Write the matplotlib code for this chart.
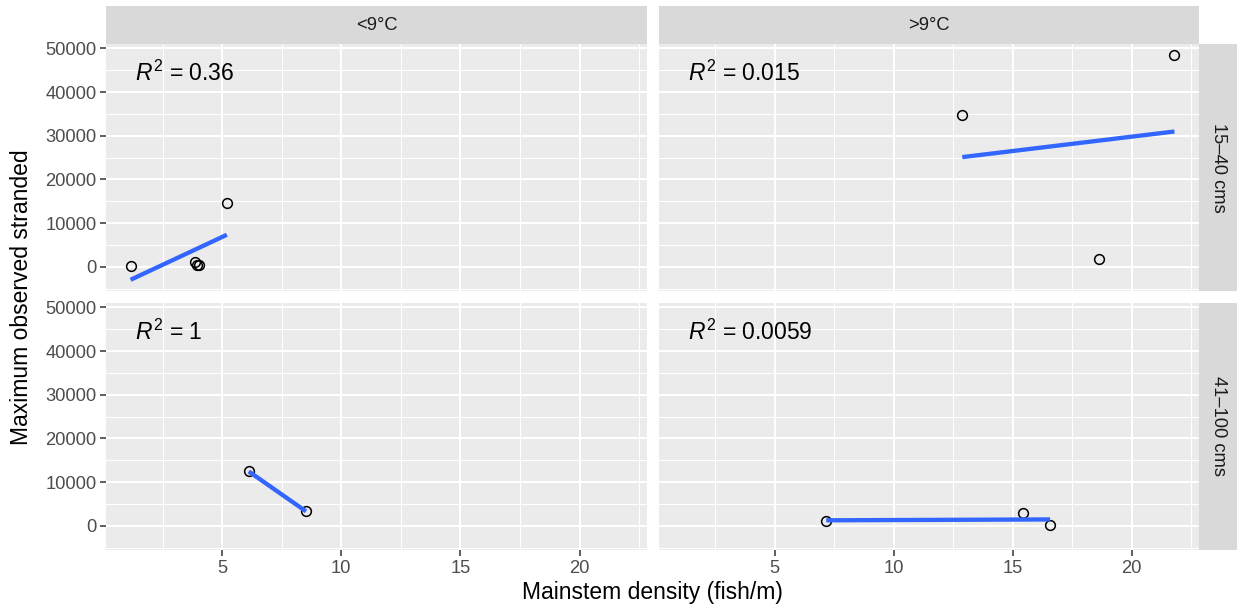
import numpy as np
import matplotlib
matplotlib.use("Agg")
import matplotlib.pyplot as plt

plt.rcParams['font.family'] = ['Liberation Sans', 'DejaVu Sans']
plt.rcParams['mathtext.fontset'] = 'custom'
plt.rcParams['mathtext.rm'] = 'Liberation Sans'
plt.rcParams['mathtext.it'] = 'Liberation Sans:italic'

# facet labels
temp_groups = ["<9°C", ">9°C"]
flow_groups = ["15–40 cms", "41–100 cms"]

# mainstem density vs max stranded, one pair of lists per facet
cold_low_x = [1.16, 3.88, 3.95, 4.05, 5.2]
cold_low_y = [230, 1000, 450, 390, 14670]
warm_low_x = [12.88, 21.8, 18.61]
warm_low_y = [34830, 48440, 1670]
cold_high_x = [6.12, 8.52]
cold_high_y = [12420, 3280]
warm_high_x = [7.16, 15.45, 16.57]
warm_high_y = [1050, 2920, 100]

x_breaks = [5, 10, 15, 20]
y_breaks = [0, 10000, 20000, 30000, 40000, 50000]

facets = {
    (0, 0): (cold_low_x, cold_low_y),
    (0, 1): (warm_low_x, warm_low_y),
    (1, 0): (cold_high_x, cold_high_y),
    (1, 1): (warm_high_x, warm_high_y),
}

# linear fits per facet
fits = {}
for key, (x, y) in facets.items():
    x = np.asarray(x, float)
    y = np.asarray(y, float)
    coef = np.polyfit(x, y, 1)
    pred = np.polyval(coef, x)
    r2 = 1 - np.sum((y - pred) ** 2) / np.sum((y - y.mean()) ** 2)
    xs = np.array([x.min(), x.max()])
    fits[key] = (xs, np.polyval(coef, xs), r2)

# shared scales with 5% expansion, like ggplot
all_x = np.concatenate([np.asarray(v[0], float) for v in facets.values()])
all_y = np.concatenate([np.asarray(v[1], float) for v in facets.values()] +
                       [f[1] for f in fits.values()])
xr = all_x.max() - all_x.min()
yr = all_y.max() - all_y.min()
xlim = (all_x.min() - 0.05 * xr, all_x.max() + 0.05 * xr)
ylim = (all_y.min() - 0.05 * yr, all_y.max() + 0.05 * yr)

W, H = 1238, 609
fig = plt.figure(figsize=(W / 100, H / 100), dpi=100)


def px_axes(x0, y0, x1, y1):
    return fig.add_axes([x0 / W, 1 - y1 / H, (x1 - x0) / W, (y1 - y0) / H])


cols = [(106, 647), (659, 1199)]
rows = [(44, 291), (303, 550)]
strip_col = '#D9D9D9'

for (r, c), (x, y) in facets.items():
    x0, x1 = cols[c]
    y0, y1 = rows[r]
    ax = px_axes(x0, y0, x1, y1)
    ax.set_facecolor('#EBEBEB')
    for s in ax.spines.values():
        s.set_visible(False)
    ax.set_xlim(xlim)
    ax.set_ylim(ylim)
    ax.set_xticks(x_breaks)
    ax.set_xticks(np.arange(2.5, xlim[1], 5), minor=True)
    ax.set_yticks(y_breaks)
    ax.set_yticks(np.arange(-5000, ylim[1], 10000), minor=True)
    ax.set_axisbelow(True)
    ax.grid(which='major', color='white', lw=1.5)
    ax.grid(which='minor', color='white', lw=0.75)
    ax.tick_params(which='minor', length=0)
    ax.tick_params(which='major', length=4, width=1.1, color='#333333',
                   labelcolor='#4D4D4D', labelsize=13.2, pad=3)
    if c == 0:
        ax.set_yticklabels([str(v) for v in y_breaks])
    else:
        ax.tick_params(axis='y', length=0, labelleft=False)
    if r == 1:
        ax.set_xticklabels([str(v) for v in x_breaks])
    else:
        ax.tick_params(axis='x', length=0, labelbottom=False)

    ax.plot(x, y, 'o', mfc='none', mec='black', ms=7, mew=1.1, zorder=2)
    xs, ys, r2 = fits[(r, c)]
    ax.plot(xs, ys, color='#3366FF', lw=3.1, solid_capstyle='butt', zorder=3)
    ax.text(0.054, 0.852, rf"$R^2$ = {r2:.2g}", transform=ax.transAxes,
            ha='left', va='baseline', fontsize=16.5, color='black')

# top strips
for c, label in enumerate(temp_groups):
    x0, x1 = cols[c]
    sax = px_axes(x0, 6, x1, 44)
    sax.set_facecolor(strip_col)
    sax.set_xticks([])
    sax.set_yticks([])
    for s in sax.spines.values():
        s.set_visible(False)
    sax.text(0.5, 0.5, label, ha='center', va='center', fontsize=13.2,
             color='#1A1A1A', transform=sax.transAxes)

# right strips
for r, label in enumerate(flow_groups):
    y0, y1 = rows[r]
    sax = px_axes(1199, y0, 1237, y1)
    sax.set_facecolor(strip_col)
    sax.set_xticks([])
    sax.set_yticks([])
    for s in sax.spines.values():
        s.set_visible(False)
    sax.text(0.5, 0.5, label, ha='center', va='center', fontsize=13.2,
             color='#1A1A1A', rotation=-90, transform=sax.transAxes)

fig.text(652.5 / W, 1 - 592 / H, "Mainstem density (fish/m)", ha='center',
         va='center', fontsize=16.5)
fig.text(22 / W, 1 - 297 / H, "Maximum observed stranded", ha='center',
         va='center', fontsize=16.5, rotation=90)

fig.savefig("out.png", dpi=100)
